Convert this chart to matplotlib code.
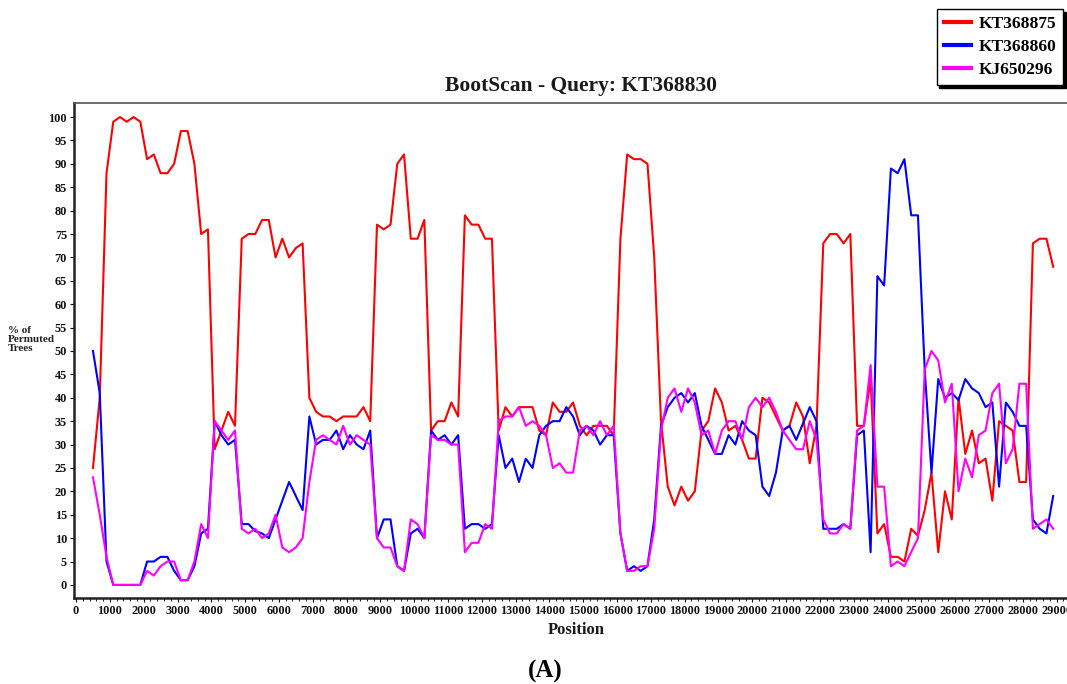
import numpy as np
import matplotlib
matplotlib.use("Agg")
import matplotlib.pyplot as plt
from matplotlib.ticker import MultipleLocator

# window centres (200 bp step)
positions = np.arange(500, 28901, 200)

kt368875 = [
    25, 40, 88, 99, 100, 99, 100, 99, 91, 92, 88, 88, 90, 97, 97, 90, 75, 76, 29, 33,
    37, 34, 74, 75, 75, 78, 78, 70, 74, 70, 72, 73, 40, 37, 36, 36, 35, 36, 36, 36,
    38, 35, 77, 76, 77, 90, 92, 74, 74, 78, 33, 35, 35, 39, 36, 79, 77, 77, 74, 74,
    33, 38, 36, 38, 38, 38, 33, 32, 39, 37, 37, 39, 34, 32, 34, 34, 34, 32, 74, 92,
    91, 91, 90, 70, 35, 21, 17, 21, 18, 20, 33, 35, 42, 39, 33, 34, 31, 27, 27, 40,
    39, 36, 33, 34, 39, 36, 26, 34, 73, 75, 75, 73, 75, 34, 34, 44, 11, 13, 6, 6,
    5, 12, 10.5, 16, 24, 7, 20, 14, 40, 28, 33, 26, 27, 18, 35, 34, 33, 22, 22, 73,
    74, 74, 68,
]
kt368860 = [
    50, 41, 5, 0, 0, 0, 0, 0, 5, 5, 6, 6, 3, 1, 1, 4, 11, 12, 35, 32,
    30, 31, 13, 13, 11.5, 11, 10, 14, 18, 22, 19, 16, 36, 30, 31, 31, 33, 29, 32, 30,
    29, 33, 10, 14, 14, 4, 3, 11, 12, 10, 33, 31, 32, 30, 32, 12, 13, 13, 12, 13,
    32, 25, 27, 22, 27, 25, 32, 34, 35, 35, 38, 36, 32, 34, 33, 30, 32, 32, 11, 3,
    4, 3, 4, 14, 34, 38, 40, 41, 39, 41, 34, 31, 28, 28, 32, 30, 35, 33, 32, 21,
    19, 24, 33, 34, 31, 34.5, 38, 35, 12, 12, 12, 13, 12, 32, 33, 7, 66, 64, 89, 88,
    91, 79, 79, 46, 24, 44, 40, 41, 39.5, 44, 42, 41, 38, 39, 21, 39, 37, 34, 34, 14,
    12, 11, 19,
]
kj650296 = [
    23, 15, 6, 0, 0, 0, 0, 0, 3, 2, 4, 5, 5, 1, 1, 5, 13, 10, 35, 33,
    31, 33, 12, 11, 12, 10, 11, 15, 8, 7, 8, 10, 22, 31, 32, 31, 30, 34, 30, 32,
    31, 30, 10, 8, 8, 4, 3, 14, 13, 10, 32, 31, 31, 30, 30, 7, 9, 9, 13, 12,
    35, 36, 36, 38, 34, 35, 34, 32, 25, 26, 24, 24, 33, 34, 32, 35, 32, 34, 11, 3,
    3, 4, 4, 12, 33, 40, 42, 37, 42, 39, 32, 33, 28, 33, 35, 35, 31, 38, 40, 38,
    40, 37, 33, 31, 29, 29, 35, 31, 14, 11, 11, 13, 12, 33, 34, 47, 21, 21, 4, 5,
    4, 7, 10, 46, 50, 48, 39, 43, 20, 27, 23, 32, 33, 41, 43, 26, 29, 43, 43, 12,
    13, 14, 12,
]
series_names = ["KT368875", "KT368860", "KJ650296"]
series_colors = ["#ff0000", "#0000ff", "#ff00ff"]

plt.rcParams["font.family"] = ["Liberation Serif", "DejaVu Serif"]
plt.rcParams["font.weight"] = "bold"

fig = plt.figure(figsize=(10.67, 6.84), dpi=100)
ax = fig.add_axes([0.0694, 0.1257, 0.9335, 0.7237])

lines = []
for values, name, color in zip((kt368875, kt368860, kj650296), series_names, series_colors):
    (ln,) = ax.plot(positions, values, color=color, linewidth=1.5, label=name)
    lines.append(ln)

ax.set_xlim(-60, 29400)
ax.set_ylim(-2.8, 103)
ax.set_xticks(np.arange(0, 29001, 1000))
ax.xaxis.set_minor_locator(MultipleLocator(200))
ax.set_yticks(np.arange(0, 101, 5))
ax.tick_params(axis="both", labelsize=8.8, length=3, width=0.8, pad=2, colors="#111111")
ax.tick_params(axis="x", which="minor", length=2, width=0.6)
for lab in ax.get_xticklabels() + ax.get_yticklabels():
    lab.set_fontweight("bold")

for side in ("left", "bottom"):
    ax.spines[side].set_linewidth(1.8)
    ax.spines[side].set_color("#222222")
ax.spines["top"].set_linewidth(1.2)
ax.spines["top"].set_color("#555555")
ax.spines["right"].set_visible(False)

fig.text(581 / 1067, 1 - 86 / 684, "BootScan - Query: KT368830", ha="center", va="center",
         fontsize=15.5, fontweight="bold", color="#1a1a1a")
fig.text(8 / 1067, 1 - 340 / 684, "% of\nPermuted\nTrees", ha="left", va="center",
         fontsize=8, fontweight="bold", linespacing=1.0, color="#222222")
fig.text(576 / 1067, 1 - 630 / 684, "Position", ha="center", va="center",
         fontsize=12, fontweight="bold", color="#1a1a1a")
fig.text(545 / 1067, 1 - 671 / 684, "(A)", ha="center", va="center",
         fontsize=18, fontweight="bold", color="black")

leg = fig.legend(handles=lines, loc="upper right", bbox_to_anchor=(1063 / 1067, 1 - 9 / 684),
                 frameon=True, fancybox=False, shadow={"color": "black", "alpha": 1},
                 fontsize=12.5, handlelength=1.6, handletextpad=0.4, labelspacing=0.4,
                 borderpad=0.4, borderaxespad=0)
leg.get_frame().set_edgecolor("black")
leg.get_frame().set_linewidth(1.0)
for t in leg.get_texts():
    t.set_fontweight("bold")
for h in leg.legend_handles:
    h.set_linewidth(3)

fig.savefig("out.png", dpi=100)
